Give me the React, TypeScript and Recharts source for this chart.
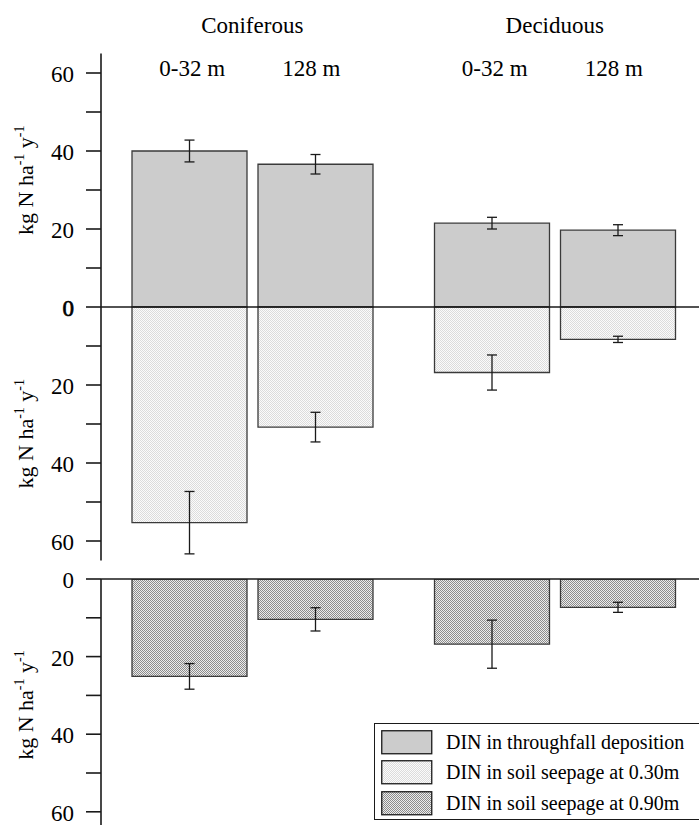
import React from 'react';
import {
  BarChart,
  Bar,
  XAxis,
  YAxis,
  ErrorBar,
  ReferenceLine,
  ReferenceArea,
  Legend,
} from 'recharts';

const stands = ['Coniferous', 'Deciduous'];
const distances = ['0-32 m', '128 m'];

// mean N flux (kg N ha-1 y-1) and error, ordered as in `stands`
const throughfallNear = [40.0, 21.5];
const throughfallNearErr = [2.8, 1.5];
const throughfallFar = [36.6, 19.7];
const throughfallFarErr = [2.5, 1.4];

const seepage30Near = [55.3, 16.8];
const seepage30NearErr = [8.0, 4.5];
const seepage30Far = [30.8, 8.3];
const seepage30FarErr = [3.8, 0.8];

const seepage90Near = [25.1, 16.8];
const seepage90NearErr = [3.3, 6.2];
const seepage90Far = [10.4, 7.3];
const seepage90FarErr = [3.0, 1.3];

const panelTicks = [0, 10, 20, 30, 40, 50, 60];

const legendLabels = [
  'DIN in throughfall deposition',
  'DIN in soil seepage at 0.30m',
  'DIN in soil seepage at 0.90m',
];

const FONT = '"Liberation Serif", "Times New Roman", serif';
const INK = '#1a1a1a';
const legendFills = ['#cccccc', 'url(#seep30)', 'url(#seep90)'];

// throughfall goes up from zero, 0.30 m seepage hangs below it
const upperRows = stands.map((stand, i) => ({
  stand,
  tfNear: throughfallNear[i],
  tfNearErr: throughfallNearErr[i],
  tfFar: throughfallFar[i],
  tfFarErr: throughfallFarErr[i],
  s30Near: -seepage30Near[i],
  s30NearErr: seepage30NearErr[i],
  s30Far: -seepage30Far[i],
  s30FarErr: seepage30FarErr[i],
}));

const lowerRows = stands.map((stand, i) => ({
  stand,
  s90Near: seepage90Near[i],
  s90NearErr: seepage90NearErr[i],
  s90Far: seepage90Far[i],
  s90FarErr: seepage90FarErr[i],
}));

const upperTicks = [...panelTicks.slice(1).reverse().map((v) => -v), ...panelTicks];

function Patterns() {
  return (
    <svg width={0} height={0} style={{ position: 'absolute' }}>
      <defs>
        <pattern id="seep30" width={2} height={2} patternUnits="userSpaceOnUse">
          <rect width={2} height={2} fill="#fbfbfb" />
          <rect width={1} height={1} fill="#dcdcdc" />
          <rect x={1} y={1} width={1} height={1} fill="#dcdcdc" />
        </pattern>
        <pattern id="seep90" width={2} height={2} patternUnits="userSpaceOnUse">
          <rect width={2} height={2} fill="#ececec" />
          <rect width={1} height={1} fill="#8c8c8c" />
          <rect x={1} y={1} width={1} height={1} fill="#8c8c8c" />
        </pattern>
      </defs>
    </svg>
  );
}

function YTick(props: any) {
  const { x, y, payload, heavyZero } = props;
  const v = payload.value as number;
  if (v % 20 !== 0) return <g />;
  const thick = heavyZero && v === 0;
  return (
    <text
      x={x}
      y={y}
      dy={9}
      textAnchor="end"
      fontFamily={FONT}
      fontSize={23}
      fill="#000"
      stroke={thick ? '#000' : 'none'}
      strokeWidth={thick ? 0.7 : 0}
    >
      {Math.abs(v)}
    </text>
  );
}

function StandTick(props: any) {
  const { x, payload } = props;
  return (
    <g fontFamily={FONT} fontSize={23} fill="#000">
      <text x={x} y={33} textAnchor="middle">
        {payload.value}
      </text>
      <text x={x - 60} y={76} textAnchor="middle">
        {distances[0]}
      </text>
      <text x={x + 59} y={76} textAnchor="middle">
        {distances[1]}
      </text>
    </g>
  );
}

function UnitTitle(props: any) {
  const { viewBox } = props;
  const bx = 33;
  const cy = viewBox.y + viewBox.height / 2;
  return (
    <text
      x={bx}
      y={cy}
      transform={`rotate(-90 ${bx} ${cy})`}
      textAnchor="middle"
      fontFamily={FONT}
      fontSize={22}
      fill="#000"
    >
      kg N ha
      <tspan dy={-9} fontSize={14}>-1</tspan>
      <tspan dy={9}> y</tspan>
      <tspan dy={-9} fontSize={14}>-1</tspan>
    </text>
  );
}

function LegendBox() {
  return (
    <div
      style={{
        border: `1.5px solid ${INK}`,
        background: '#fff',
        width: 360,
        height: 97,
        paddingTop: 3,
        boxSizing: 'border-box',
        fontFamily: FONT,
        fontSize: 20,
        color: '#000',
        textAlign: 'left',
      }}
    >
      {legendLabels.map((label, i) => (
        <div key={label} style={{ display: 'flex', alignItems: 'center', height: 30.5 }}>
          <svg width={52} height={25} style={{ marginLeft: 6, flex: 'none' }}>
            <rect x={0.75} y={0.75} width={50} height={23} fill={legendFills[i]} stroke={INK} strokeWidth={1.3} />
          </svg>
          <span style={{ marginLeft: 13, whiteSpace: 'nowrap' }}>{label}</span>
        </div>
      ))}
    </div>
  );
}

const barStroke = { stroke: '#3a3a3a', strokeWidth: 1.3 };
const errStyle = { stroke: INK, strokeWidth: 1.3, width: 5 };

export default function App() {
  return (
    <div
      style={{
        position: 'absolute',
        left: 0,
        top: 0,
        width: 699,
        height: 825,
        overflow: 'hidden',
        background: '#fff',
        fontFamily: FONT,
      }}
    >
      <Patterns />
      <div style={{ position: 'absolute', left: 0, top: 0 }}>
        <BarChart
          width={706}
          height={570}
          data={upperRows}
          stackOffset="sign"
          barSize={115}
          barGap={11}
          margin={{ top: 52.5, right: 0, bottom: 9.5, left: 0 }}
        >
          <XAxis
            dataKey="stand"
            orientation="top"
            height={1}
            axisLine={false}
            tickLine={false}
            tick={<StandTick />}
            interval={0}
          />
          <YAxis
            width={101}
            domain={[-65, 65]}
            ticks={upperTicks}
            interval={0}
            allowDataOverflow
            tickSize={15}
            tickMargin={12}
            axisLine={{ stroke: INK, strokeWidth: 1.6 }}
            tickLine={{ stroke: INK, strokeWidth: 1.6 }}
            tick={<YTick heavyZero />}
          />
          <ReferenceArea y1={0} y2={65} fill="none" fillOpacity={0} stroke="none" label={<UnitTitle />} />
          <ReferenceArea y1={-65} y2={0} fill="none" fillOpacity={0} stroke="none" label={<UnitTitle />} />
          <Bar dataKey="tfNear" stackId="near" fill="#cccccc" {...barStroke} isAnimationActive={false}>
            <ErrorBar dataKey="tfNearErr" {...errStyle} />
          </Bar>
          <Bar dataKey="s30Near" stackId="near" fill="url(#seep30)" {...barStroke} isAnimationActive={false}>
            <ErrorBar dataKey="s30NearErr" {...errStyle} />
          </Bar>
          <Bar dataKey="tfFar" stackId="far" fill="#cccccc" {...barStroke} isAnimationActive={false}>
            <ErrorBar dataKey="tfFarErr" {...errStyle} />
          </Bar>
          <Bar dataKey="s30Far" stackId="far" fill="url(#seep30)" {...barStroke} isAnimationActive={false}>
            <ErrorBar dataKey="s30FarErr" {...errStyle} />
          </Bar>
          <ReferenceLine y={0} stroke={INK} strokeWidth={1.6} />
        </BarChart>
      </div>
      <div style={{ position: 'absolute', left: 0, top: 540 }}>
        <BarChart
          width={706}
          height={300}
          data={lowerRows}
          barSize={115}
          barGap={11}
          margin={{ top: 39, right: 0, bottom: 8.8, left: 0 }}
        >
          <XAxis dataKey="stand" hide />
          <YAxis
            width={101}
            reversed
            domain={[0, 65]}
            ticks={panelTicks}
            interval={0}
            allowDataOverflow
            tickSize={15}
            tickMargin={12}
            axisLine={{ stroke: INK, strokeWidth: 1.6 }}
            tickLine={{ stroke: INK, strokeWidth: 1.6 }}
            tick={<YTick />}
          />
          <ReferenceArea y1={0} y2={65} fill="none" fillOpacity={0} stroke="none" label={<UnitTitle />} />
          <Bar dataKey="s90Near" fill="url(#seep90)" {...barStroke} isAnimationActive={false}>
            <ErrorBar dataKey="s90NearErr" {...errStyle} />
          </Bar>
          <Bar dataKey="s90Far" fill="url(#seep90)" {...barStroke} isAnimationActive={false}>
            <ErrorBar dataKey="s90FarErr" {...errStyle} />
          </Bar>
          <ReferenceLine y={0} stroke={INK} strokeWidth={1.6} />
          <Legend
            layout="vertical"
            align="center"
            verticalAlign="middle"
            content={<LegendBox />}
            wrapperStyle={{ position: 'absolute', left: 374, top: 183, width: 360, bottom: 'auto' }}
          />
        </BarChart>
      </div>
    </div>
  );
}
